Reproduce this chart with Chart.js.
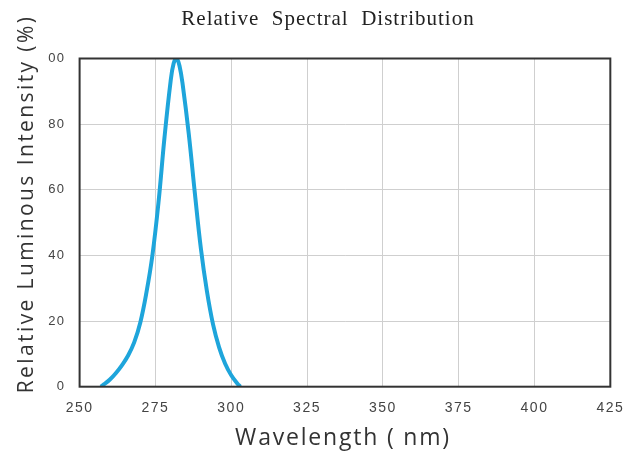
<!DOCTYPE html>
<html>
<head>
<meta charset="utf-8">
<script src="https://cdn.jsdelivr.net/npm/chart.js@4"></script>
<style>
html,body{margin:0;padding:0;background:#fff;}
canvas{display:block;}
</style>
</head>
<body>
<canvas id="c" width="635" height="453"></canvas>
<script>
const chartTitle = "Relative  Spectral  Distribution";
const xTitle = "Wavelength ( nm)";
const yTitle = "Relative Luminous Intensity (%)";
const wavelengths = [257, 258, 260, 262, 264, 266, 268, 270, 272, 274, 276, 278, 280, 281, 282, 283, 284, 286, 288, 290, 292, 294, 296, 298, 300, 302, 303];
const intensity   = [0, 0.7, 2.2, 4.2, 6.6, 9.5, 13.5, 19.5, 28.5, 40, 56, 76, 93, 98.5, 100, 97.5, 92, 77, 59, 42, 29, 19, 12, 7, 3.5, 1, 0];
const xTicks = [250, 275, 300, 325, 350, 375, 400, 425];
const yTicks = [0, 20, 40, 60, 80, 100];
const yTickLabels = ["0", "20", "40", "60", "80", "00"];

const frameAndTitles = {
  id: 'frameAndTitles',
  beforeDraw(chart) {
    chart.ctx.letterSpacing = '1.5px';
  },
  afterDraw(chart) {
    const ctx = chart.ctx;
    const a = chart.chartArea;
    ctx.save();
    ctx.letterSpacing = '0px';
    ctx.strokeStyle = '#333';
    ctx.lineWidth = 2;
    ctx.strokeRect(a.left, a.top, a.right - a.left, a.bottom - a.top);
    // chart title
    ctx.fillStyle = '#222';
    ctx.font = '21px "Liberation Serif", "Times New Roman", serif';
    ctx.letterSpacing = '1px';
    ctx.textAlign = 'center';
    ctx.textBaseline = 'middle';
    ctx.fillText(chartTitle, 328, 19);
    // x title
    ctx.font = '23px "Open Sans", sans-serif';
    ctx.letterSpacing = '1.8px';
    ctx.fillStyle = '#333';
    ctx.textBaseline = 'alphabetic';
    ctx.fillText(xTitle, 343, 445);
    // y title
    ctx.translate(33, 204);
    ctx.rotate(-Math.PI / 2);
    ctx.font = '21px "Open Sans", sans-serif';
    ctx.letterSpacing = '2.4px';
    ctx.fillText(yTitle, 0, 0);
    ctx.restore();
  }
};

new Chart(document.getElementById('c'), {
  type: 'line',
  data: {
    datasets: [{
      data: wavelengths.map((x, i) => ({x: x, y: intensity[i]})),
      borderColor: '#1ea5db',
      borderWidth: 4,
      pointRadius: 0,
      fill: false,
      tension: 0.4
    }]
  },
  options: {
    responsive: false,
    animation: false,
    devicePixelRatio: 1,
    layout: { padding: { left: 0, right: 21, top: 58.5, bottom: 0 } },
    plugins: { legend: { display: false }, tooltip: { enabled: false }, title: { display: false } },
    scales: {
      x: {
        type: 'linear',
        min: 250, max: 425,
        afterFit(s) { s.height = 66.3; },
        afterBuildTicks(s) { s.ticks = xTicks.map(v => ({value: v})); },
        ticks: { color: '#444', padding: 13, font: { family: '"Liberation Sans", Arial, sans-serif', size: 14 } },
        grid: { color: '#cfcfcf', lineWidth: 1, drawTicks: false },
        border: { display: false }
      },
      y: {
        min: 0, max: 100,
        afterFit(s) { s.width = 79.6; },
        afterBuildTicks(s) { s.ticks = yTicks.map(v => ({value: v})); },
        ticks: {
          color: '#444', padding: 14,
          font: { family: '"Liberation Sans", Arial, sans-serif', size: 13 },
          callback(v) { const i = yTicks.indexOf(v); return i >= 0 ? yTickLabels[i] : ''; }
        },
        grid: { color: '#cfcfcf', lineWidth: 1, drawTicks: false },
        border: { display: false }
      }
    }
  },
  plugins: [frameAndTitles]
});
</script>
</body>
</html>
